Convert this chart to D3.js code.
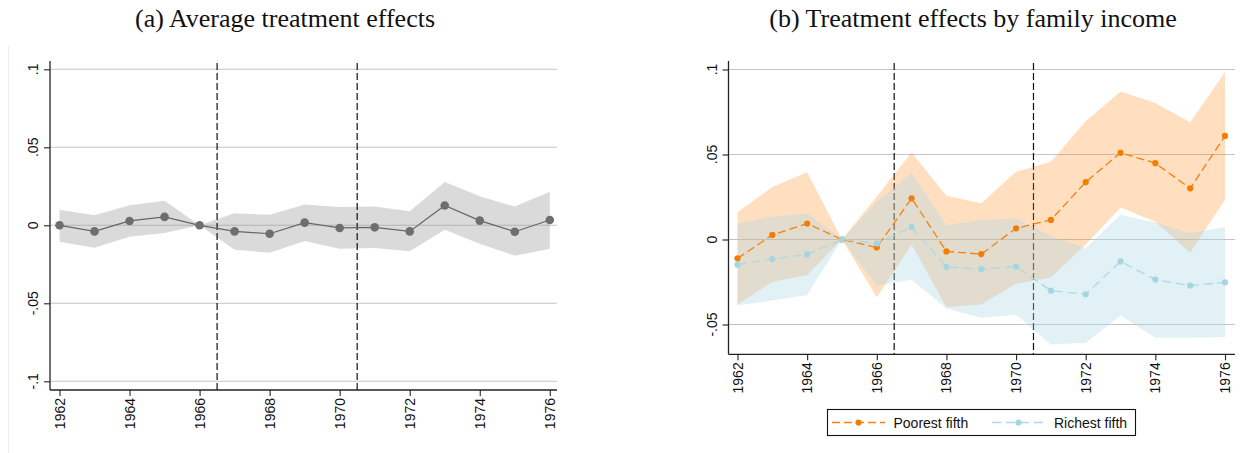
<!DOCTYPE html>
<html>
<head>
<meta charset="utf-8">
<script src="https://cdn.jsdelivr.net/npm/d3@7"></script>
<style>
  html, body { margin: 0; padding: 0; background: #fff; }
  svg { display: block; }
  .tick-label { font-family: "Liberation Sans", Arial, sans-serif; font-size: 14px; fill: #111; }
  .title { font-family: "Liberation Serif", "Times New Roman", serif; font-size: 26px; fill: #111; }
</style>
</head>
<body>
<svg id="chart" width="1247" height="453"></svg>
<script>
// Event-study estimates, by year of birth cohort
const years = [1962, 1963, 1964, 1965, 1966, 1967, 1968, 1969, 1970, 1971, 1972, 1973, 1974, 1975, 1976];
const xTickYears = [1962, 1964, 1966, 1968, 1970, 1972, 1974, 1976];
const reformLines = [1966.5, 1970.5];

// (a) average treatment effects with 95% bands
const ateEst = [0, -0.0039, 0.0028, 0.0054, 0, -0.0039, -0.0054, 0.0017, -0.0017, -0.0013, -0.0039, 0.0127, 0.0030, -0.0041, 0.0034];
const ateLo  = [-0.0105, -0.0144, -0.0073, -0.0049, 0, -0.0157, -0.0176, -0.0101, -0.0150, -0.0146, -0.0167, -0.0028, -0.0118, -0.0195, -0.0150];
const ateHi  = [0.0099, 0.0064, 0.0129, 0.0157, 0, 0.0077, 0.0067, 0.0133, 0.0118, 0.0120, 0.0090, 0.0277, 0.0187, 0.0120, 0.0215];
const ateYTicks = [-0.1, -0.05, 0, 0.05, 0.1];
const ateYLabels = ["-.1", "-.05", "0", ".05", ".1"];

// (b) effects by family income
const poorEst = [-0.0111, 0.0027, 0.0094, 0, -0.0047, 0.0242, -0.0070, -0.0086, 0.0066, 0.0115, 0.0338, 0.0510, 0.0449, 0.0301, 0.0609];
const poorLo  = [-0.0383, -0.0248, -0.0209, 0, -0.0340, -0.0031, -0.0398, -0.0383, -0.0260, -0.0223, -0.0030, 0.0188, 0.0105, -0.0076, 0.0234];
const poorHi  = [0.0160, 0.0309, 0.0395, 0, 0.0253, 0.0512, 0.0258, 0.0213, 0.0398, 0.0457, 0.0695, 0.0871, 0.0803, 0.0689, 0.0984];
const richEst = [-0.0148, -0.0115, -0.0088, 0, -0.0023, 0.0074, -0.0162, -0.0174, -0.0160, -0.0301, -0.0322, -0.0129, -0.0236, -0.0271, -0.0252];
const richLo  = [-0.0387, -0.0359, -0.0326, 0, -0.0270, -0.0237, -0.0406, -0.0461, -0.0443, -0.0617, -0.0607, -0.0447, -0.0578, -0.0578, -0.0574];
const richHi  = [0.0092, 0.0135, 0.0154, 0, 0.0224, 0.0391, 0.0084, 0.0115, 0.0123, 0.0020, -0.0050, 0.0145, 0.0100, 0.0038, 0.0073];
const incYTicks = [-0.05, 0, 0.05, 0.1];
const incYLabels = ["-.05", "0", ".05", ".1"];
const seriesNames = ["Poorest fifth", "Richest fifth"];

const titles = ["(a) Average treatment effects", "(b) Treatment effects by family income"];

const svg = d3.select("#chart");

function drawFrame(g, cfg) {
  const { x, y, left, right, top, bottom, yTicks, yLabels } = cfg;

  // horizontal grid
  g.append("g").selectAll("line").data(yTicks).join("line")
    .attr("x1", left).attr("x2", right)
    .attr("y1", d => y(d)).attr("y2", d => y(d))
    .attr("stroke", "#c4c4c4").attr("stroke-width", 1.1);

  // y axis
  const yAxis = d3.axisLeft(y).tickValues(yTicks).tickSize(6).tickFormat("");
  const ya = g.append("g").attr("transform", `translate(${left},0)`).call(yAxis);
  ya.select(".domain").remove();
  ya.selectAll(".tick line").attr("stroke", "#222").attr("stroke-width", 1.1);
  g.append("line").attr("x1", left).attr("x2", left).attr("y1", top).attr("y2", bottom)
    .attr("stroke", "#222").attr("stroke-width", 1.3);
  g.append("g").selectAll("text").data(yTicks).join("text")
    .attr("class", "tick-label")
    .attr("text-anchor", "middle")
    .attr("transform", (d) => `translate(${left - 12},${y(d)}) rotate(-90)`)
    .text((d, i) => yLabels[i]);

  // x axis
  const xAxis = d3.axisBottom(x).tickValues(xTickYears).tickSize(6).tickFormat("");
  const xa = g.append("g").attr("transform", `translate(0,${bottom})`).call(xAxis);
  xa.select(".domain").remove();
  xa.selectAll(".tick line").attr("stroke", "#222").attr("stroke-width", 1.1);
  g.append("line").attr("x1", left).attr("x2", right).attr("y1", bottom).attr("y2", bottom)
    .attr("stroke", "#222").attr("stroke-width", 1.3);
  g.append("g").selectAll("text").data(xTickYears).join("text")
    .attr("class", "tick-label")
    .attr("text-anchor", "end")
    .attr("dy", "0.36em")
    .attr("transform", d => `translate(${x(d)},${bottom + 8}) rotate(-90)`)
    .text(d => d);
}

function drawReformLines(g, cfg) {
  const { x, top, bottom } = cfg;
  g.append("g").selectAll("line").data(reformLines).join("line")
    .attr("x1", d => x(d)).attr("x2", d => x(d))
    .attr("y1", top + 2).attr("y2", bottom)
    .attr("stroke", "#111").attr("stroke-width", 1.2)
    .attr("stroke-dasharray", "7,3");
}

function band(g, x, y, lo, hi, fill, opacity) {
  const area = d3.area()
    .x((d, i) => x(years[i]))
    .y0((d, i) => y(lo[i]))
    .y1((d, i) => y(hi[i]));
  g.append("path").datum(years).attr("d", area)
    .attr("fill", fill).attr("fill-opacity", opacity);
}

function series(g, x, y, vals, color, dash, r, width, dotColor) {
  const line = d3.line().x((d, i) => x(years[i])).y(d => y(d));
  g.append("path").datum(vals).attr("d", line)
    .attr("fill", "none").attr("stroke", color).attr("stroke-width", width)
    .attr("stroke-dasharray", dash);
  g.append("g").selectAll("circle").data(vals).join("circle")
    .attr("cx", (d, i) => x(years[i])).attr("cy", d => y(d))
    .attr("r", r).attr("fill", dotColor);
}

// ---------- panel (a) ----------
{
  const left = 50, right = 557, top = 61, bottom = 390;
  const x = d3.scaleLinear().domain([1962, 1976]).range([59.5, 549.8]);
  const y = d3.scaleLinear().domain([-0.1, 0.1]).range([381.3, 69.3]);
  const g = svg.append("g");

  // faint outer region edge
  g.append("line").attr("x1", 8.5).attr("x2", 8.5).attr("y1", 46).attr("y2", 453)
    .attr("stroke", "#eeeeee").attr("stroke-width", 1);

  const cfg = { x, y, left, right, top, bottom, yTicks: ateYTicks, yLabels: ateYLabels };
  drawFrame(g, cfg);
  band(g, x, y, ateLo, ateHi, "#9a9a9a", 0.37);
  drawReformLines(g, cfg);
  series(g, x, y, ateEst, "#666666", null, 4.3, 1.2, "#6e6e6e");

  svg.append("text").attr("class", "title").attr("x", 285).attr("y", 27)
    .attr("text-anchor", "middle").text(titles[0]);
}

// ---------- panel (b) ----------
{
  const left = 728.5, right = 1235, top = 61, bottom = 354.3;
  const x = d3.scaleLinear().domain([1962, 1976]).range([737.5, 1225]);
  const y = d3.scaleLinear().domain([-0.05, 0.1]).range([324.5, 69.5]);
  const g = svg.append("g");

  const cfg = { x, y, left, right, top, bottom, yTicks: incYTicks, yLabels: incYLabels };
  drawFrame(g, cfg);
  drawReformLines(g, cfg);
  band(g, x, y, poorLo, poorHi, "#ff7f00", 0.25);
  band(g, x, y, richLo, richHi, "#add8e6", 0.36);
  series(g, x, y, poorEst, "#f7810c", "8,4", 3.1, 1.3, "#f57c00");
  series(g, x, y, richEst, "#add8e6", "9,5", 3.1, 1.3, "#a6d5e2");

  svg.append("text").attr("class", "title").attr("x", 973).attr("y", 27)
    .attr("text-anchor", "middle").text(titles[1]);

  // legend
  const lg = svg.append("g");
  lg.append("rect").attr("x", 827.5).attr("y", 409.5).attr("width", 308).attr("height", 26)
    .attr("fill", "#fff").attr("stroke", "#111").attr("stroke-width", 1.1);
  const items = [
    { name: seriesNames[0], x0: 832, x1: 885, tx: 893.5, color: "#f7810c", dot: "#f57c00", dash: "8,4" },
    { name: seriesNames[1], x0: 992, x1: 1045, tx: 1054, color: "#add8e6", dot: "#a6d5e2", dash: "9,5" }
  ];
  items.forEach(it => {
    lg.append("line").attr("x1", it.x0).attr("x2", it.x1).attr("y1", 422.5).attr("y2", 422.5)
      .attr("stroke", it.color).attr("stroke-width", 1.3).attr("stroke-dasharray", it.dash);
    lg.append("circle").attr("cx", (it.x0 + it.x1) / 2).attr("cy", 422.5).attr("r", 3.1).attr("fill", it.dot);
    lg.append("text").attr("class", "tick-label").attr("x", it.tx).attr("y", 428)
      .text(it.name);
  });
}
</script>
</body>
</html>
